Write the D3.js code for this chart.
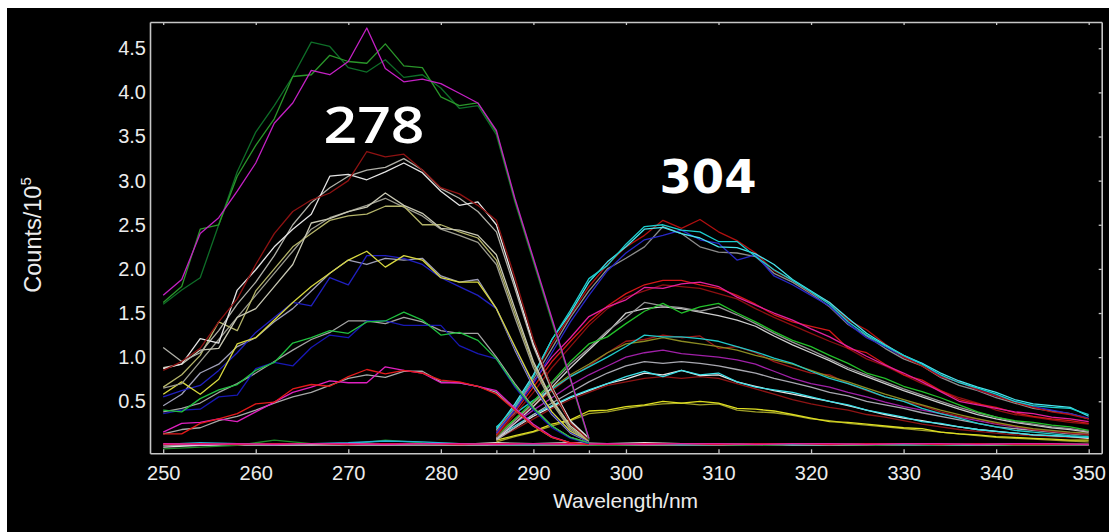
<!DOCTYPE html>
<html><head><meta charset="utf-8">
<script src="https://cdn.jsdelivr.net/npm/d3@7"></script>
<style>html,body{margin:0;padding:0;background:#fff;}svg{display:block;}</style>
</head><body>
<svg id="c" width="1109" height="532"></svg>
<script>
// ---------- data ----------
const xTicks = [250,260,270,280,290,300,310,320,330,340,350];
const yTicks = [0.5,1.0,1.5,2.0,2.5,3.0,3.5,4.0,4.5];
const segmentEdges = [286, 296];
const annotations = ["278", "304"];

const exWl = [250,252,254,256,258,260,262,264,266,268,270,272,274,276,278,280,282,284,286,288,290,292,294,296];
const emWl = [286,288,290,292,294,296,298,300,302,304,306,308,310,312,314,316,318,320,322,324,326,328,330,332,334,336,338,340,342,344,346,348,350];
const baseWl = [250,254,258,262,266,270,274,278,282,286,290,294,298,302,306,310,314,318,322,326,330,334,338,342,346,350];

// excitation spectra (left, peak 278 region)
const exMagentaA = [1.70,1.88,2.40,2.58,2.88,3.20,3.65,3.88,4.25,4.20,4.35,4.73,4.27,4.12,4.15,4.10,3.99,3.88,3.57,2.80,2.12,1.44,0.76,0.08];
const exGreenA   = [1.62,1.80,2.45,2.50,3.05,3.40,3.70,4.18,4.20,4.42,4.35,4.33,4.55,4.30,4.28,3.95,3.85,3.88,3.55,2.78,2.10,1.42,0.75,0.07];
const exDkGreenA = [1.60,1.76,1.90,2.50,3.10,3.55,3.85,4.18,4.57,4.52,4.28,4.23,4.37,4.17,4.20,4.05,3.82,3.85,3.52,2.76,2.08,1.40,0.74,0.06];
const exRedB     = [0.85,0.95,1.10,1.40,1.66,2.05,2.40,2.65,2.78,2.86,3.00,3.33,3.27,3.30,3.12,2.92,2.85,2.72,2.55,1.90,1.20,0.65,0.25,0.06];
const exWhiteB   = [0.87,0.92,1.21,1.16,1.76,1.99,2.25,2.45,2.62,3.05,3.07,3.01,3.10,3.20,3.09,2.88,2.72,2.76,2.50,1.83,1.15,0.66,0.28,0.08];
const exGrayB    = [1.11,0.95,1.05,1.30,1.60,1.85,2.15,2.50,2.75,2.92,3.05,3.12,3.15,3.25,3.12,2.91,2.80,2.65,2.42,1.78,1.12,0.62,0.26,0.07];
const exPaleC    = [0.88,0.92,1.08,1.10,1.45,1.55,1.80,2.05,2.52,2.57,2.65,2.70,2.86,2.72,2.63,2.46,2.44,2.38,2.16,1.55,0.95,0.52,0.22,0.06];
const exOliveC   = [0.66,0.80,1.02,1.40,1.30,1.75,2.00,2.25,2.40,2.55,2.60,2.62,2.71,2.71,2.50,2.50,2.42,2.35,2.10,1.50,0.92,0.50,0.20,0.05];
const exGrayC    = [0.65,0.70,0.95,1.20,1.45,1.70,1.95,2.20,2.45,2.58,2.65,2.72,2.80,2.70,2.60,2.45,2.38,2.30,2.05,1.45,0.88,0.48,0.18,0.05];
const exBlueD    = [0.55,0.62,0.68,0.85,1.05,1.28,1.45,1.62,1.58,1.90,1.82,2.15,2.15,2.12,2.05,1.90,1.80,1.70,1.55,1.10,0.68,0.36,0.15,0.04];
const exYellowD  = [0.58,0.72,0.58,0.75,1.15,1.22,1.42,1.62,1.80,1.95,2.10,2.20,2.02,2.15,2.10,1.90,1.85,1.85,1.55,1.12,0.70,0.38,0.16,0.05];
const exGrayD    = [0.45,0.58,0.82,0.92,1.12,1.22,1.40,1.55,1.75,1.95,2.10,2.05,2.12,2.10,2.12,1.92,1.85,1.88,1.55,1.08,0.66,0.35,0.14,0.04];
const exGreenE   = [0.40,0.38,0.53,0.63,0.69,0.85,0.94,1.16,1.22,1.30,1.27,1.40,1.41,1.51,1.42,1.25,1.28,1.19,0.98,0.68,0.42,0.22,0.09,0.03];
const exBlueE    = [0.36,0.40,0.41,0.55,0.57,0.87,0.94,0.90,1.11,1.25,1.22,1.41,1.41,1.36,1.36,1.36,1.13,1.04,0.98,0.66,0.40,0.20,0.08,0.02];
const exGrayE    = [0.38,0.42,0.48,0.60,0.70,0.82,0.95,1.08,1.20,1.28,1.41,1.41,1.38,1.45,1.40,1.30,1.27,1.27,1.00,0.70,0.43,0.22,0.09,0.03];
const exRedF     = [0.13,0.13,0.25,0.30,0.36,0.47,0.49,0.64,0.69,0.67,0.78,0.86,0.81,0.85,0.82,0.74,0.72,0.67,0.58,0.40,0.22,0.09,0.03,0.01];
const exMagentaF = [0.15,0.25,0.26,0.30,0.27,0.38,0.49,0.60,0.66,0.73,0.71,0.71,0.89,0.85,0.82,0.71,0.71,0.67,0.62,0.42,0.24,0.10,0.03,0.01];
const exGrayF    = [0.13,0.18,0.20,0.28,0.33,0.40,0.48,0.55,0.60,0.68,0.76,0.80,0.77,0.84,0.84,0.72,0.71,0.67,0.60,0.40,0.22,0.09,0.03,0.01];

// emission spectra (right, peak 304 region)
const emCyan1    = [0.20,0.44,0.78,1.20,1.53,1.89,2.04,2.28,2.48,2.50,2.44,2.42,2.31,2.31,2.14,1.99,1.87,1.74,1.60,1.40,1.25,1.13,1.02,0.92,0.80,0.71,0.65,0.58,0.50,0.45,0.43,0.42,0.35];
const emDkRed1   = [0.17,0.45,0.80,1.15,1.48,1.80,2.05,2.25,2.38,2.55,2.46,2.56,2.42,2.32,2.18,1.98,1.87,1.73,1.62,1.42,1.31,1.15,1.00,0.90,0.78,0.72,0.63,0.56,0.49,0.43,0.38,0.35,0.30];
const emBlue1    = [0.14,0.40,0.70,1.05,1.40,1.70,1.98,2.18,2.33,2.38,2.44,2.33,2.29,2.10,2.16,1.92,1.82,1.70,1.58,1.38,1.22,1.12,1.00,0.93,0.78,0.72,0.63,0.56,0.50,0.44,0.40,0.36,0.31];
const emGray1    = [0.16,0.42,0.75,1.10,1.45,1.75,2.00,2.12,2.25,2.48,2.40,2.25,2.19,2.18,2.14,1.95,1.85,1.72,1.57,1.37,1.24,1.10,0.98,0.90,0.77,0.68,0.62,0.54,0.48,0.42,0.39,0.36,0.30];
const emLtCyan1  = [0.18,0.47,0.80,1.20,1.50,1.85,2.08,2.25,2.45,2.47,2.40,2.35,2.25,2.24,2.17,2.05,1.88,1.75,1.62,1.44,1.27,1.14,1.02,0.93,0.82,0.73,0.66,0.60,0.52,0.47,0.45,0.43,0.33];
const emMagenta2 = [0.14,0.42,0.72,1.00,1.22,1.46,1.57,1.65,1.79,1.78,1.83,1.85,1.80,1.68,1.59,1.50,1.42,1.32,1.23,1.12,1.01,0.91,0.82,0.72,0.61,0.50,0.46,0.42,0.38,0.36,0.32,0.30,0.27];
const emRed2     = [0.12,0.38,0.66,0.95,1.18,1.40,1.58,1.72,1.82,1.87,1.87,1.82,1.78,1.70,1.60,1.48,1.40,1.35,1.30,1.10,1.05,0.92,0.80,0.74,0.62,0.52,0.47,0.43,0.37,0.33,0.30,0.28,0.25];
const emDkRed2   = [0.10,0.35,0.60,0.88,1.12,1.36,1.55,1.68,1.75,1.82,1.80,1.78,1.72,1.66,1.55,1.45,1.36,1.27,1.18,1.10,0.98,0.90,0.80,0.70,0.62,0.54,0.48,0.40,0.35,0.32,0.29,0.26,0.24];
const emGreen3   = [0.10,0.30,0.50,0.72,0.95,1.15,1.23,1.38,1.52,1.61,1.50,1.57,1.61,1.50,1.40,1.29,1.19,1.12,1.02,0.93,0.82,0.76,0.67,0.61,0.54,0.46,0.38,0.32,0.28,0.26,0.23,0.21,0.17];
const emGray3    = [0.08,0.28,0.48,0.70,0.92,1.10,1.30,1.45,1.62,1.58,1.56,1.52,1.57,1.48,1.38,1.27,1.17,1.08,0.98,0.88,0.80,0.72,0.64,0.57,0.50,0.43,0.37,0.32,0.27,0.24,0.21,0.19,0.16];
const emWhite3   = [0.07,0.25,0.44,0.66,0.88,1.08,1.28,1.50,1.55,1.57,1.55,1.51,1.47,1.42,1.35,1.24,1.14,1.05,0.96,0.86,0.78,0.70,0.62,0.55,0.48,0.41,0.35,0.30,0.26,0.23,0.20,0.18,0.15];
const emCyan4    = [0.21,0.36,0.51,0.64,0.78,0.89,1.00,1.12,1.25,1.23,1.23,1.21,1.18,1.12,1.06,0.99,0.93,0.84,0.76,0.70,0.63,0.55,0.50,0.42,0.36,0.31,0.25,0.21,0.17,0.15,0.13,0.11,0.10];
const emOlive4   = [0.12,0.30,0.48,0.65,0.80,0.92,1.05,1.15,1.18,1.22,1.18,1.15,1.12,1.08,1.02,0.97,0.92,0.85,0.78,0.72,0.65,0.58,0.52,0.46,0.40,0.35,0.30,0.26,0.22,0.19,0.17,0.15,0.14];
const emDkRed4   = [0.10,0.28,0.45,0.62,0.78,0.90,1.05,1.18,1.20,1.25,1.22,1.24,1.10,1.12,1.05,0.95,0.88,0.82,0.80,0.70,0.62,0.55,0.50,0.45,0.38,0.33,0.30,0.25,0.22,0.18,0.16,0.14,0.12];
const emPurple5  = [0.09,0.25,0.40,0.54,0.68,0.80,0.90,1.00,1.05,1.08,1.04,1.02,1.00,0.97,0.92,0.84,0.76,0.70,0.66,0.60,0.55,0.49,0.44,0.40,0.36,0.32,0.28,0.24,0.21,0.18,0.16,0.14,0.13];
const emGray5    = [0.06,0.20,0.35,0.48,0.60,0.72,0.82,0.90,0.95,0.93,0.95,0.93,0.90,0.86,0.82,0.76,0.71,0.66,0.60,0.56,0.50,0.46,0.42,0.37,0.33,0.29,0.25,0.21,0.19,0.17,0.15,0.13,0.12];
const emCyan6    = [0.10,0.22,0.35,0.45,0.55,0.63,0.70,0.78,0.84,0.78,0.85,0.80,0.82,0.72,0.66,0.63,0.60,0.55,0.50,0.46,0.40,0.36,0.32,0.27,0.25,0.21,0.18,0.16,0.14,0.12,0.11,0.10,0.09];
const emWhite6   = [0.08,0.20,0.33,0.44,0.54,0.62,0.70,0.75,0.82,0.80,0.85,0.79,0.80,0.72,0.67,0.62,0.58,0.54,0.50,0.45,0.40,0.35,0.31,0.28,0.24,0.21,0.18,0.16,0.14,0.12,0.11,0.10,0.08];
const emDkRed6   = [0.07,0.18,0.30,0.42,0.52,0.60,0.68,0.72,0.76,0.78,0.76,0.78,0.76,0.70,0.64,0.58,0.52,0.47,0.43,0.40,0.35,0.32,0.28,0.24,0.21,0.18,0.16,0.14,0.12,0.11,0.10,0.09,0.08];
const emYellow7  = [0.06,0.11,0.16,0.24,0.29,0.39,0.40,0.44,0.46,0.50,0.48,0.50,0.48,0.42,0.41,0.39,0.35,0.31,0.27,0.26,0.24,0.22,0.20,0.19,0.15,0.13,0.12,0.10,0.09,0.08,0.07,0.06,0.06];
const emOlive7   = [0.04,0.10,0.15,0.22,0.28,0.36,0.38,0.42,0.45,0.47,0.48,0.46,0.47,0.40,0.38,0.37,0.34,0.30,0.28,0.25,0.23,0.21,0.19,0.17,0.15,0.13,0.11,0.09,0.08,0.07,0.06,0.05,0.04];

// near-zero traces spanning the full range
const baseZero   = [0,0,0,0,0,0,0,0,0,0,0,0,0,0,0,0,0,0,0,0,0,0,0,0,0,0];
const baseGreen  = [-0.04,-0.02,0.00,0.06,0.02,0.01,0.06,0.03,0.02,0.01,0.01,0.01,0.00,0.01,0.01,0.01,0.00,0.01,0.01,0.00,0.01,0.00,0.01,0.00,0.00,0.00];
const baseWhite  = [-0.02,0.00,0.02,0.01,0.01,0.02,0.01,0.02,0.01,0.03,0.02,0.03,0.02,0.03,0.02,0.01,0.02,0.01,0.01,0.01,0.02,0.01,0.01,0.01,0.01,0.01];
const baseCyan   = [0.01,0.03,0.02,0.01,0.02,0.03,0.05,0.04,0.02,0.01,0.01,0.02,0.01,0.02,0.01,0.01,0.02,0.01,0.01,0.02,0.01,0.01,0.01,0.02,0.01,0.01];
const baseRed    = [0.01,0.02,0.01,0.02,0.02,0.01,0.02,0.02,0.01,0.02,0.02,0.02,0.01,0.02,0.02,0.01,0.02,0.02,0.01,0.02,0.02,0.01,0.02,0.01,0.01,0.01];
const baseMag    = [0.02,0.01,0.02,0.01,0.02,0.02,0.01,0.02,0.02,0.01,0.02,0.01,0.02,0.01,0.02,0.02,0.01,0.02,0.02,0.01,0.02,0.02,0.01,0.02,0.02,0.01];

// ---------- drawing ----------
const W = 1109, H = 532;
const svg = d3.select("#c");
svg.append("rect").attr("x", 7).attr("y", 8).attr("width", W - 7).attr("height", H - 8).attr("fill", "#000");

const L = 150, R = 1101.7, T = 22, B = 453.3;
const x = d3.scaleLinear().domain([248.574, 351.405]).range([L, R]);
const y = d3.scaleLinear().domain([-0.0895, 4.7975]).range([B, T]);

const series = [
  [baseWl, baseZero, "#9a9a9a"],
  [baseWl, baseGreen, "#1f8a2a"],
  [baseWl, baseWhite, "#e0e0e0"],
  [baseWl, baseCyan, "#28b4d8"],
  [baseWl, baseRed, "#d81030"],
  [baseWl, baseMag, "#e0209a"],
  [emWl, emOlive7, "#a0a028"],
  [emWl, emYellow7, "#dede22"],
  [emWl, emDkRed6, "#8e1414"],
  [emWl, emWhite6, "#e6e6e6"],
  [emWl, emCyan6, "#3ee0e8"],
  [emWl, emGray5, "#a8a8b0"],
  [emWl, emPurple5, "#a020a8"],
  [emWl, emDkRed4, "#9a1818"],
  [emWl, emOlive4, "#8a8a22"],
  [emWl, emCyan4, "#20c8c8"],
  [emWl, emWhite3, "#cfcfcf"],
  [emWl, emGray3, "#959595"],
  [emWl, emGreen3, "#22c02a"],
  [emWl, emDkRed2, "#8c1010"],
  [emWl, emRed2, "#d41818"],
  [emWl, emMagenta2, "#e2209e"],
  [emWl, emGray1, "#8c8c8c"],
  [emWl, emBlue1, "#2828c8"],
  [emWl, emDkRed1, "#b01010"],
  [emWl, emLtCyan1, "#48e4ec"],
  [emWl, emCyan1, "#1ccccc"],
  [exWl, exGrayF, "#a8a8a8"],
  [exWl, exMagentaF, "#e020c0"],
  [exWl, exRedF, "#e41a1a"],
  [exWl, exGrayE, "#a4a4a4"],
  [exWl, exBlueE, "#1818b4"],
  [exWl, exGreenE, "#20c040"],
  [exWl, exGrayD, "#a0a0b8"],
  [exWl, exBlueD, "#2020c0"],
  [exWl, exYellowD, "#d8d840"],
  [exWl, exGrayC, "#9c9c90"],
  [exWl, exOliveC, "#b4b46a"],
  [exWl, exPaleC, "#c8c8b4"],
  [exWl, exGrayB, "#b0b0a8"],
  [exWl, exWhiteB, "#e4e4e4"],
  [exWl, exRedB, "#8e1212"],
  [exWl, exDkGreenA, "#0e6e28"],
  [exWl, exGreenA, "#2a962a"],
  [exWl, exMagentaA, "#c420c4"]
];

const line = d3.line().x(d => x(d[0])).y(d => y(d[1]));
const gLines = svg.append("g").attr("fill", "none").attr("stroke-width", 1.3).attr("stroke-linejoin", "round");
series.forEach(([wl, vals, col]) => {
  gLines.append("path").datum(d3.zip(wl, vals)).attr("d", line).attr("stroke", col);
});

// axes / frame
const frameCol = "#c6c6c6";
const font = "'Liberation Sans', Arial, sans-serif";
function style(g) {
  g.select(".domain").attr("stroke", frameCol).attr("stroke-width", 1.6);
  g.selectAll(".tick line").attr("stroke", frameCol).attr("stroke-width", 1.3);
  g.selectAll(".tick text").attr("fill", "#ececec").attr("font-size", 20).attr("font-family", font);
}
svg.append("g").attr("transform", `translate(0,${B})`)
  .call(d3.axisBottom(x).tickValues(xTicks).tickSizeInner(-4).tickSizeOuter(0).tickPadding(12.5).tickFormat(d3.format("d")))
  .call(style);
svg.append("g").attr("transform", `translate(0,${B})`)
  .call(d3.axisBottom(x).tickValues(segmentEdges).tickSizeInner(-3).tickSizeOuter(0).tickFormat(""))
  .call(style).call(g => g.select(".domain").remove());
svg.append("g").attr("transform", `translate(0,${T})`)
  .call(d3.axisTop(x).tickValues(xTicks).tickSizeInner(-3).tickSizeOuter(0).tickFormat(""))
  .call(style);
svg.append("g").attr("transform", `translate(${L},0)`)
  .call(d3.axisLeft(y).tickValues(yTicks).tickSize(0).tickPadding(4).tickFormat(d3.format(".1f")))
  .call(style);
svg.append("g").attr("transform", `translate(${R},0)`)
  .call(d3.axisRight(y).tickValues(yTicks).tickSizeInner(-3).tickSizeOuter(0).tickFormat(""))
  .call(style);

// axis titles
const yl = svg.append("text").attr("transform", "translate(40.5,235) rotate(-90)")
  .attr("text-anchor", "middle").attr("fill", "#ececec").attr("font-family", font).attr("font-size", 23.5);
yl.append("tspan").text("Counts/10");
yl.append("tspan").attr("dy", -10).attr("font-size", 15).text("5");

svg.append("text").attr("x", 625.5).attr("y", 507.7).attr("text-anchor", "middle")
  .attr("fill", "#ececec").attr("font-family", font).attr("font-size", 21).text("Wavelength/nm");

// peak annotations
svg.append("text").attr("x", 323.5).attr("y", 143.3)
  .attr("fill", "#fff").attr("font-family", "'Open Sans', 'DejaVu Sans', sans-serif").attr("font-weight", 600)
  .attr("font-size", 51).attr("textLength", 101).attr("lengthAdjust", "spacingAndGlyphs").text(annotations[0]);
svg.append("text").attr("x", 659.5).attr("y", 192.7)
  .attr("fill", "#fff").attr("font-family", "'DejaVu Sans', sans-serif").attr("font-weight", "bold")
  .attr("font-size", 47).attr("textLength", 97).attr("lengthAdjust", "spacingAndGlyphs").text(annotations[1]);
</script>
</body></html>
